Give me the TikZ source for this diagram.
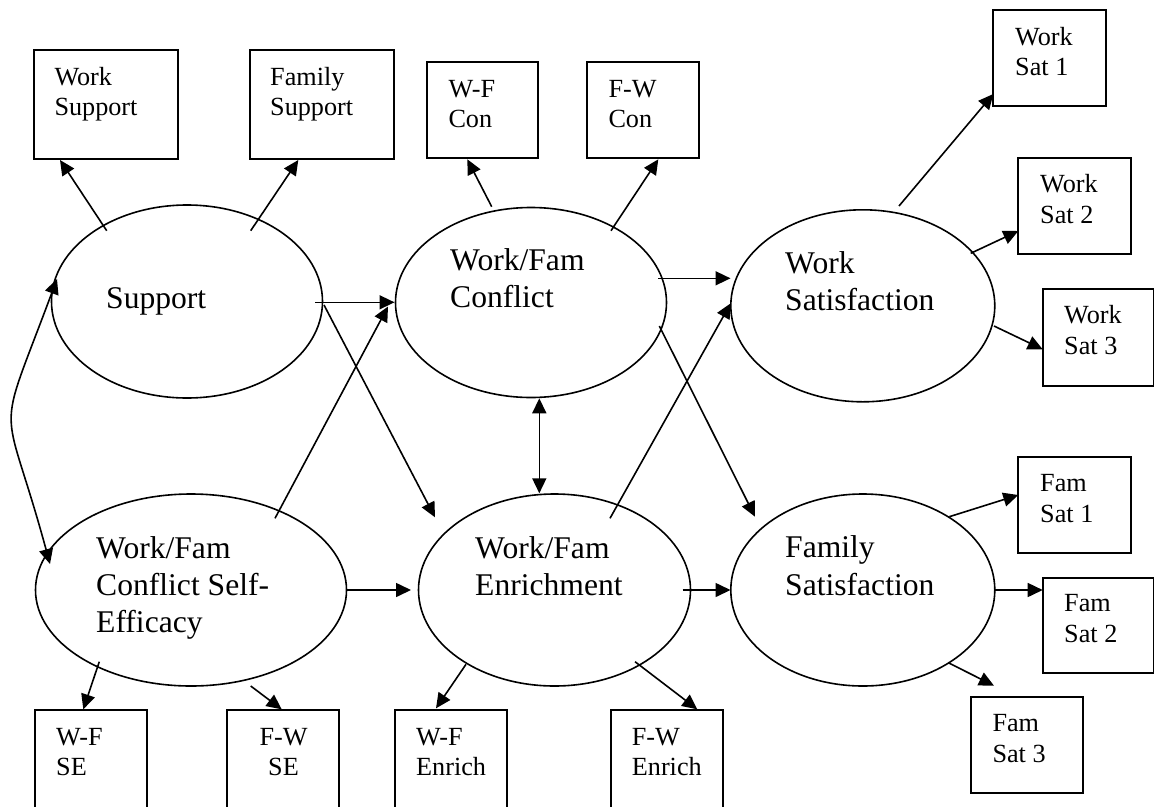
\documentclass[tikz,border=0pt]{standalone}
\usepackage{fontspec}
\setmainfont{Liberation Serif}
\usetikzlibrary{shapes.geometric,arrows.meta}
\newcommand{\lnsL}[1]{\begin{tabular}[t]{@{}l@{}}#1\end{tabular}}
\newcommand{\lnsC}[1]{\begin{tabular}[t]{@{}c@{}}#1\end{tabular}}
\begin{document}
\begin{tikzpicture}[x=1pt,y=-1pt,
  lat/.style={ellipse,draw,line width=1.6pt,inner sep=0pt},
  obs/.style={rectangle,draw,line width=1.9pt,inner sep=0pt},
  ltxt/.style={anchor=base west,inner sep=0pt,font=\fontsize{31.6}{37.3}\selectfont},
  btxt/.style={anchor=base west,inner sep=0pt,font=\fontsize{26.2}{30.7}\selectfont},
  arr/.style={line width=1.6pt,-{Triangle[length=15pt,width=14pt]}},
  darr/.style={line width=1.6pt,{Triangle[length=15pt,width=14pt]}-{Triangle[length=15pt,width=14pt]}}]
\useasboundingbox (0,0) rectangle (1155,806);

% latent variables
\node[lat,minimum width=271pt,minimum height=193pt] (sup)  at (187,301.5) {};
\node[lat,minimum width=271pt,minimum height=190pt] (con)  at (531,302.5) {};
\node[lat,minimum width=264pt,minimum height=192pt] (wsat) at (862.8,305.8) {};
\node[lat,minimum width=311pt,minimum height=192pt] (se)   at (191,590) {};
\node[lat,minimum width=272pt,minimum height=192pt] (enr)  at (554.5,590) {};
\node[lat,minimum width=264pt,minimum height=192pt] (fsat) at (862.8,590) {};

\node[ltxt] (supT)  at (106,308.3) {\lnsL{Support}};
\node[ltxt] (conT)  at (450,270)   {\lnsL{Work/Fam\\Conflict}};
\node[ltxt] (wsatT) at (785,273.3) {\lnsL{Work\\Satisfaction}};
\node[ltxt] (seT)   at (96,558.3)  {\lnsL{Work/Fam\\Conflict Self-\\Efficacy}};
\node[ltxt] (enrT)  at (475,558.3) {\lnsL{Work/Fam\\Enrichment}};
\node[ltxt] (fsatT) at (785,557.7) {\lnsL{Family\\Satisfaction}};

% observed variables
\node[obs,minimum width=144pt,minimum height=109pt] (wsup) at (106,104.5) {};
\node[obs,minimum width=144pt,minimum height=109pt] (fsup) at (322,104.5) {};
\node[obs,minimum width=111pt,minimum height=96pt] (wfc) at (482.5,110) {};
\node[obs,minimum width=112pt,minimum height=96pt] (fwc) at (643,110) {};
\node[obs,minimum width=113pt,minimum height=96pt] (ws1) at (1049.5,58) {};
\node[obs,minimum width=113pt,minimum height=96pt] (ws2) at (1074.5,206) {};
\node[obs,minimum width=110.5pt,minimum height=97pt] (ws3) at (1098.25,337.5) {};
\node[obs,minimum width=113pt,minimum height=96pt] (fs1) at (1074.5,505) {};
\node[obs,minimum width=110.5pt,minimum height=95pt] (fs2) at (1098.25,625.5) {};
\node[obs,minimum width=112pt,minimum height=96pt] (fs3) at (1027,745) {};
\node[obs,minimum width=112pt,minimum height=98pt] (wfse) at (91,759) {};
\node[obs,minimum width=112pt,minimum height=98pt] (fwse) at (283,759) {};
\node[obs,minimum width=112pt,minimum height=98pt] (wfen) at (451,759) {};
\node[obs,minimum width=112pt,minimum height=98pt] (fwen) at (667,759) {};

\node[btxt] (wsupT) at (54.3,85)    {\lnsL{Work\\Support}};
\node[btxt] (fsupT) at (270,85)     {\lnsL{Family\\Support}};
\node[btxt] (wfcT)  at (448.3,97)   {\lnsL{W-F\\Con}};
\node[btxt] (fwcT)  at (608.3,97)   {\lnsL{F-W\\Con}};
\node[btxt] (ws1T)  at (1015,45)    {\lnsL{Work\\Sat 1}};
\node[btxt] (ws2T)  at (1040,192.7) {\lnsL{Work\\Sat 2}};
\node[btxt] (ws3T)  at (1064,323.3) {\lnsL{Work\\Sat 3}};
\node[btxt] (fs1T)  at (1040,491.7) {\lnsL{Fam\\Sat 1}};
\node[btxt] (fs2T)  at (1064,611.7) {\lnsL{Fam\\Sat 2}};
\node[btxt] (fs3T)  at (992.3,731.7) {\lnsL{Fam\\Sat 3}};
\node[btxt] (wfseT) at (56,745)     {\lnsL{W-F\\SE}};
\node[btxt] (fwseT) at (259.3,745)  {\lnsC{F-W\\SE}};
\node[btxt] (wfenT) at (416,745)    {\lnsL{W-F\\Enrich}};
\node[btxt] (fwenT) at (631.7,745)  {\lnsL{F-W\\Enrich}};

% connector end points
\coordinate (s1) at (106.7,230.7); \coordinate (t1) at (60,160);
\coordinate (s2) at (250.7,230.7); \coordinate (t2) at (298.3,160);
\coordinate (s3) at (315,302.3);   \coordinate (t3) at (394.5,302.3);
\coordinate (s4) at (324,305);     \coordinate (t4) at (435,517.3);
\coordinate (s5) at (275,518.3);   \coordinate (t5) at (388,306.5);
\coordinate (s6) at (658.3,278.3); \coordinate (t6) at (730.5,278.3);
\coordinate (s7) at (659.3,326);   \coordinate (t7) at (755,516.7);
\coordinate (s8) at (610,518.3);   \coordinate (t8) at (730.7,303.3);
\coordinate (s9) at (539.3,398.3); \coordinate (t9) at (539.3,493.3);
\coordinate (s10) at (346.7,590);  \coordinate (t10) at (411,590);
\coordinate (s11) at (682.7,590);  \coordinate (t11) at (730.5,590);
\coordinate (s12) at (899,206);    \coordinate (t12) at (993.3,94);
\coordinate (s13) at (970.7,253.3); \coordinate (t13) at (1018.3,231);
\coordinate (s14) at (994,326);    \coordinate (t14) at (1042.7,349.3);
\coordinate (s15) at (949.3,516.7); \coordinate (t15) at (1018.3,495);
\coordinate (s16) at (995,590);    \coordinate (t16) at (1042.7,590);
\coordinate (s17) at (948.3,662.7); \coordinate (t17) at (994,685.7);
\coordinate (s18) at (99.3,661.7); \coordinate (t18) at (83.3,709.3);
\coordinate (s19) at (250.7,686);  \coordinate (t19) at (281.7,709.3);
\coordinate (s20) at (466,664.3);  \coordinate (t20) at (436,708.3);
\coordinate (s21) at (635,661.7);  \coordinate (t21) at (697.3,709.3);
\coordinate (s22) at (491.7,206.7); \coordinate (t22) at (467.3,159.3);
\coordinate (s23) at (611,230.7);  \coordinate (t23) at (658.3,159.3);
\coordinate (c1) at (57,279);      \coordinate (c2) at (50,564);

\foreach \i in {1,2,3,4,5,6,7,8,10,11,12,13,14,15,16,17,18,19,20,21,22,23}
  {\draw[arr] (s\i) -- (t\i);}
\draw[darr] (s9) -- (t9);
\draw[darr] (c1) .. controls (-6,448) and (3,391) .. (c2);
\end{tikzpicture}
\end{document}
